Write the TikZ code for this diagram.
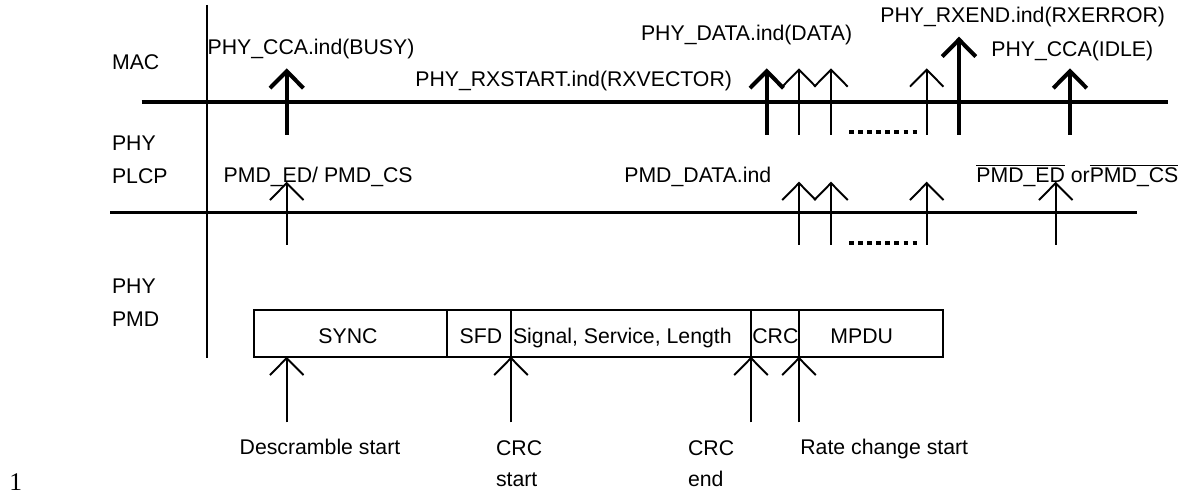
\documentclass[tikz,border=0pt]{standalone}
\usepackage{fontspec}
\setmainfont{Liberation Sans}
\newfontfamily\pagefont{Liberation Serif}
\usetikzlibrary{arrows.meta}
\tikzset{
  lbl/.style={font=\fontsize{12.1}{18}\selectfont, inner sep=0pt, anchor=base west},
  lblc/.style={lbl, anchor=base},
  layer/.style={line width=1.9pt},
  sig/.style={line width=1.1pt, -{Straight Barb[length=0.34cm, width=0.67cm]}},
  sigbold/.style={line width=2.3pt, -{Straight Barb[length=0.34cm, width=0.67cm]}},
  dots/.style={line width=2.3pt, dash pattern=on 0.09cm off 0.092cm},
  field/.style={line width=1.1pt}
}

\begin{document}
\begin{tikzpicture}[x=0.02cm, y=-0.02cm]
  \useasboundingbox (0,0) rectangle (1180,496);

  % Layer labels
  \node[lbl] (mac)  at (111.7, 70)  {MAC};
  \node[lbl] (phya) at (111.7, 150.7) {PHY};
  \node[lbl] (plcp) at (111.7, 183.3) {PLCP};
  \node[lbl] (phyb) at (111.7, 294) {PHY};
  \node[lbl] (pmd)  at (111.7, 326.8) {PMD};

  % Layer boundaries
  \draw[line width=1.3pt] (206.7, 5) -- (206.7, 358);
  \draw[layer] (141.7, 102) -- (1168.3, 102);
  \draw[layer] (110, 212.5) -- (1137, 212.5);

  % MAC primitives
  \node[lbl] (busy)    at (207.3, 55)   {PHY\_CCA.ind(BUSY)};
  \node[lbl] (rxstart) at (415, 86.5)   {PHY\_RXSTART.ind(RXVECTOR)};
  \node[lbl] (phydata) at (640.7, 40.7) {PHY\_DATA.ind(DATA)};
  \node[lbl] (rxend)   at (880, 22.7)   {PHY\_RXEND.ind(RXERROR)};
  \node[lbl] (idle)    at (991, 56.7)   {PHY\_CCA(IDLE)};

  \draw[sigbold] (286.7, 135) -- (286.7, 68.3);
  \draw[sigbold] (766.7, 135) -- (766.7, 68.3);
  \draw[sig]     (799, 135) -- (799, 68.3);
  \draw[sig]     (831, 135) -- (831, 68.3);
  \draw[sig]     (926.7, 135) -- (926.7, 68.3);
  \draw[sigbold] (959, 135) -- (959, 36.7);
  \draw[sigbold] (1070, 135) -- (1070, 68.3);
  \draw[dots] (849, 131.7) -- (917, 131.7);

  % PLCP primitives
  \node[lbl] (edcs)    at (223.3, 182.7) {PMD\_ED/ PMD\_CS};
  \node[lbl] (pmddata) at (624, 182.7)   {PMD\_DATA.ind};
  \node[lbl] (edorcs)  at (976, 182.7)   {$\overline{\mbox{PMD\_ED}}$ or$\overline{\mbox{PMD\_CS}}$};

  \draw[sig] (286.7, 245) -- (286.7, 181.7);
  \draw[sig] (799, 245) -- (799, 181.7);
  \draw[sig] (831, 245) -- (831, 181.7);
  \draw[sig] (926.7, 245) -- (926.7, 181.7);
  \draw[sig] (1055.7, 245) -- (1055.7, 181.7);
  \draw[dots] (849, 243.3) -- (917, 243.3);

  % PPDU frame
  \draw[field] (254.3, 310) rectangle (943.3, 357);
  \draw[field] (447.3, 310) -- (447.3, 357);
  \draw[field] (511, 310) -- (511, 357);
  \draw[field] (751, 310) -- (751, 357);
  \draw[field] (799, 310) -- (799, 357);
  \node[lblc] (sync)     at (348, 343.3)   {SYNC};
  \node[lblc] (sfd)      at (481, 343.3)   {SFD};
  \node[lbl]  (sigfield) at (512.7, 343.3) {Signal, Service, Length};
  \node[lbl]  (crcfield) at (752, 343.3)   {CRC};
  \node[lblc] (mpdu)     at (861.7, 343.3) {MPDU};

  % PMD events
  \draw[sig] (286.7, 422.3) -- (286.7, 356.7);
  \draw[sig] (511, 422.3) -- (511, 356.7);
  \draw[sig] (751, 422.3) -- (751, 356.7);
  \draw[sig] (799, 422.3) -- (799, 356.7);
  \node[lbl] (descr)    at (239.3, 455) {Descramble start};
  \node[lbl, align=left] (crcstart) at (495.7, 486.7) {CRC\\start};
  \node[lbl, align=left] (crcend)   at (687.7, 486.7) {CRC\\end};
  \node[lbl] (rate)     at (800, 455)   {Rate change start};

  % Page number
  \node[inner sep=0pt, anchor=base west, font=\pagefont\fontsize{14.5}{16}\selectfont] (pagenum) at (9, 490) {1};
\end{tikzpicture}
\end{document}
